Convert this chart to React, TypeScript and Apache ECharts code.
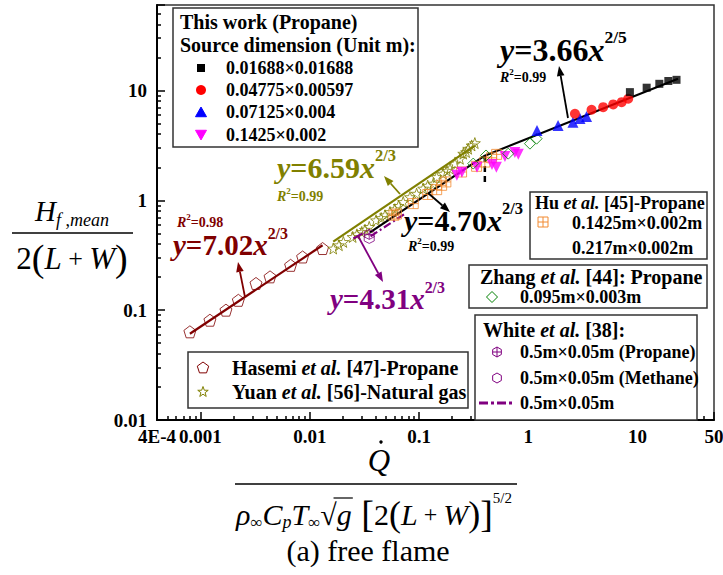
import React, { useEffect, useRef } from 'react';
import * as echarts from 'echarts';

// ---------- axis ranges & ticks ----------
const xMin = 4e-4;
const xMax = 50;
const yMin = 0.01;
const yMax = 60;
const xMinorTicks = [5e-4, 6e-4, 7e-4, 8e-4, 9e-4, 0.002, 0.003, 0.004, 0.005, 0.006, 0.007, 0.008, 0.009, 0.02, 0.03, 0.04, 0.05, 0.06, 0.07, 0.08, 0.09, 0.2, 0.3, 0.4, 0.5, 0.6, 0.7, 0.8, 0.9, 2, 3, 4, 5, 6, 7, 8, 9, 20, 30, 40];
const yMinorTicks = [0.02, 0.03, 0.04, 0.05, 0.06, 0.07, 0.08, 0.09, 0.2, 0.3, 0.4, 0.5, 0.6, 0.7, 0.8, 0.9, 2, 3, 4, 5, 6, 7, 8, 9, 20, 30, 40, 50];
const xEdgeLabels = ['4E-4', '50'];

// ---------- data ----------
const blackSquares = [[8.5, 9.66], [12.1, 10.6], [15.8, 11.5], [19.1, 12.2], [22.7, 12.5]];
const redCircles = [[2.67, 6.14], [3.79, 6.68], [4.84, 7.05], [5.98, 7.46], [7.14, 7.83], [8.2, 8.41]];
const blueTriangles = [[1.2, 4.33], [1.87, 4.8], [2.56, 5.15], [2.97, 5.56], [3.41, 5.8]];
const magentaTriangles = [[0.222, 1.69], [0.247, 1.8], [0.339, 2.0], [0.465, 2.12], [0.51, 2.0], [0.611, 2.51], [0.753, 2.73], [0.81, 2.62]];
const huPoints = [[0.0589, 0.731], [0.062, 0.75], [0.0885, 0.933], [0.12, 1.13], [0.145, 1.25], [0.161, 1.37], [0.176, 1.47], [0.245, 1.81], [0.336, 2.04], [0.4, 2.23], [0.461, 2.44], [0.513, 2.62]];
const zhangPoints = [[0.313, 2.16], [0.41, 2.56], [0.655, 2.66], [1.035, 3.28], [1.19, 3.64]];
const hasemiPoints = [[8.0e-4, 0.0635], [1.22e-3, 0.081], [1.71e-3, 0.1], [2.22e-3, 0.123], [3.22e-3, 0.175], [4.33e-3, 0.201], [6.68e-3, 0.256], [8.6e-3, 0.305], [0.0131, 0.364]];
const yuanPoints = [[0.0164, 0.364], [0.0185, 0.39], [0.0203, 0.418], [0.0247, 0.464], [0.027, 0.49], [0.0299, 0.515], [0.032, 0.54], [0.035, 0.573], [0.0404, 0.658], [0.045, 0.69], [0.0488, 0.731], [0.0542, 0.783], [0.06, 0.83], [0.065, 0.89], [0.0716, 0.966], [0.0826, 1.07], [0.095, 1.15], [0.109, 1.28], [0.12, 1.36], [0.135, 1.42], [0.145, 1.63], [0.166, 1.75], [0.18, 1.86], [0.192, 1.94], [0.213, 2.16], [0.237, 2.39], [0.254, 2.66], [0.27, 2.75], [0.282, 2.95], [0.303, 3.16], [0.324, 3.32]];
const whitePropane = [[0.035, 0.49]];
const whiteMethane = [[0.035, 0.45]];

const hasemiFit = [[8.0e-4, 0.061], [0.0131, 0.39]];
const yuanFit = [[0.0164, 0.42], [0.324, 3.15]];
const thisWorkFit = [[0.0356, 0.51], [0.4, 2.55], [23.4, 12.8]];
const whiteFit = [[0.036, 0.47], [0.075, 0.76]];
const dividerLine = [[0.4, 1.47], [0.4, 2.75]];

// ---------- colours ----------
const C_BLACK = '#000000';
const C_RED = '#FF0000';
const C_BLUE = '#0000FF';
const C_MAGENTA = '#FF00FF';
const C_ORANGE = '#F28A30';
const C_GREEN = '#008000';
const C_DARKRED = '#800000';
const C_OLIVE = '#808000';
const C_PURPLE = '#800080';

const FF = '"Liberation Serif","Times New Roman",serif';

// ---------- symbol shapes (normalised to 0..10 box) ----------
const STAR_PTS = [[5, 0], [6.18, 3.38], [9.76, 3.45], [6.9, 5.62], [7.94, 9.05], [5, 7], [2.06, 9.05], [3.1, 5.62], [0.24, 3.45], [3.82, 3.38]];
const PENT_PTS = [[5, 0], [9.76, 3.45], [7.94, 9.05], [2.06, 9.05], [0.24, 3.45]];
const HEX_PTS = [[5, 0], [9.33, 2.5], [9.33, 7.5], [5, 10], [0.67, 7.5], [0.67, 2.5]];
const TRI_UP = [[5, 0.5], [10, 9.3], [0, 9.3]];
const TRI_DOWN = [[0, 0.7], [10, 0.7], [5, 9.5]];
const DIAMOND = [[5, 0], [10, 5], [5, 10], [0, 5]];

const toPath = (pts: number[][]) => 'M' + pts.map((p) => p.join(',')).join(' L') + ' Z';
const STAR_SYM = 'path://' + toPath(STAR_PTS);
const PENT_SYM = 'path://' + toPath(PENT_PTS);
const HEX_SYM = 'path://' + toPath(HEX_PTS);
const HEXPLUS_SYM = 'path://' + toPath(HEX_PTS) + ' M5,0 L5,10 M0.67,5 L9.33,5';
const SQPLUS_SYM = 'path://M0,0 L10,0 L10,10 L0,10 Z M5,0 L5,10 M0,5 L10,5';

// ---------- text layout helpers ----------
type Piece = { t: string; s: number; i?: boolean; b?: boolean; dy?: number; c?: string };
let measureCtx: CanvasRenderingContext2D | null = null;
const fontOf = (p: Piece) => `${p.i ? 'italic ' : ''}${p.b ? 'bold ' : ''}${p.s}px ${FF}`;
function measure(p: Piece) {
  if (!measureCtx) measureCtx = document.createElement('canvas').getContext('2d');
  if (!measureCtx) return p.t.length * p.s * 0.5;
  measureCtx.font = fontOf(p);
  return measureCtx.measureText(p.t).width;
}
function row(pieces: Piece[], x: number, y: number, color: string, align: 'left' | 'center' = 'left') {
  const ws = pieces.map(measure);
  const total = ws.reduce((a, b) => a + b, 0);
  let cx = align === 'center' ? x - total / 2 : x;
  const xs: number[] = [];
  const els = pieces.map((p, k) => {
    xs.push(cx);
    const el = {
      type: 'text',
      x: cx,
      y: y + (p.dy || 0),
      z: 100,
      style: { text: p.t, font: fontOf(p), fill: p.c || color, align: 'left', verticalAlign: 'middle' },
    };
    cx += ws[k];
    return el;
  });
  return { els, xs, ws, total };
}
function eq(coef: string, exp: string, x: number, y: number, color: string, size = 29) {
  return row(
    [
      { t: 'y', i: true, b: true, s: size },
      { t: '=' + coef, b: true, s: size },
      { t: 'x', i: true, b: true, s: size },
      { t: exp, b: true, s: size * 0.55, dy: -size * 0.4 },
    ],
    x, y, color
  ).els;
}
function r2(val: string, x: number, y: number, color: string) {
  return row(
    [
      { t: 'R', i: true, b: true, s: 14 },
      { t: '2', b: true, s: 9, dy: -5 },
      { t: '=' + val, b: true, s: 14 },
    ],
    x, y, color
  ).els;
}
function arrow(x1: number, y1: number, x2: number, y2: number, color: string, w = 1.8, head = 10) {
  const a = Math.atan2(y2 - y1, x2 - x1);
  const hx = x2 - head * Math.cos(a);
  const hy = y2 - head * Math.sin(a);
  const px = -Math.sin(a) * head * 0.38;
  const py = Math.cos(a) * head * 0.38;
  return [
    { type: 'line', z: 100, shape: { x1, y1, x2: hx, y2: hy }, style: { stroke: color, lineWidth: w } },
    { type: 'polygon', z: 100, shape: { points: [[x2, y2], [hx + px, hy + py], [hx - px, hy - py]] }, style: { fill: color } },
  ];
}
function sym(pts: number[][], cx: number, cy: number, size: number, stroke: string, fill: string) {
  return {
    type: 'polygon',
    z: 100,
    shape: { points: pts.map(([px, py]) => [cx + ((px - 5) * size) / 10, cy + ((py - 5) * size) / 10]) },
    style: { fill, stroke, lineWidth: 1 },
  };
}
function box(x: number, y: number, w: number, h: number) {
  return { type: 'rect', z: 90, shape: { x, y, width: w, height: h }, style: { fill: '#ffffff', stroke: '#333333', lineWidth: 1.5 } };
}
const LT = 20; // titles / words
const LN = 18; // numeric entries
const legText = (t: string, x: number, y: number, s = LN) => row([{ t, b: true, s }], x, y, C_BLACK).els;
const etalText = (a: string, b: string, x: number, y: number, s = LT) =>
  row([{ t: a, b: true, s }, { t: 'et al.', b: true, i: true, s }, { t: b, b: true, s }], x, y, C_BLACK).els;

function fmtLog(v: number, edgeLabel: string) {
  const l = Math.log10(v);
  const r = Math.round(l);
  if (Math.abs(l - r) < 1e-6) return String(Number(Math.pow(10, r).toPrecision(1)));
  return edgeLabel;
}

function buildGraphics() {
  const g: any[] = [];
  // ---- top-left legend ----
  g.push(box(173, 8, 245, 139));
  g.push(...legText('This work (Propane)', 180, 22, LT));
  g.push(...legText('Source dimension (Unit m):', 180, 45, LT));
  g.push({ type: 'rect', z: 100, shape: { x: 197, y: 64, width: 8, height: 8 }, style: { fill: C_BLACK } });
  g.push(...legText('0.01688×0.01688', 226, 68));
  g.push({ type: 'circle', z: 100, shape: { cx: 201, cy: 90, r: 5 }, style: { fill: C_RED } });
  g.push(...legText('0.04775×0.00597', 226, 90));
  g.push(sym(TRI_UP, 201, 112, 11, C_BLUE, C_BLUE));
  g.push(...legText('0.07125×0.004', 226, 112));
  g.push(sym(TRI_DOWN, 201, 135, 11, C_MAGENTA, C_MAGENTA));
  g.push(...legText('0.1425×0.002', 226, 135));

  // ---- Hu legend ----
  g.push(box(530, 192, 177, 67));
  g.push(...etalText('Hu ', ' [45]-Propane', 535, 203, 18));
  g.push({ type: 'rect', z: 100, shape: { x: 538, y: 217, width: 10, height: 10 }, style: { fill: 'none', stroke: C_ORANGE, lineWidth: 1 } });
  g.push({ type: 'line', z: 100, shape: { x1: 543, y1: 217, x2: 543, y2: 227 }, style: { stroke: C_ORANGE, lineWidth: 1 } });
  g.push({ type: 'line', z: 100, shape: { x1: 538, y1: 222, x2: 548, y2: 222 }, style: { stroke: C_ORANGE, lineWidth: 1 } });
  g.push(...legText('0.1425m×0.002m', 572, 223));
  g.push(...legText('0.217m×0.002m', 572, 248));

  // ---- Zhang legend ----
  g.push(box(469, 265, 238, 43));
  g.push(...etalText('Zhang ', ' [44]: Propane', 480, 277));
  g.push(sym(DIAMOND, 492, 297, 11, C_GREEN, 'none'));
  g.push(...legText('0.095m×0.003m', 520, 297));

  // ---- White legend ----
  g.push(box(475, 315, 222, 105));
  g.push(...etalText('White ', ' [38]:', 483, 330));
  g.push(sym(HEX_PTS, 497, 352, 10, C_PURPLE, 'none'));
  g.push({ type: 'line', z: 100, shape: { x1: 497, y1: 347, x2: 497, y2: 357 }, style: { stroke: C_PURPLE, lineWidth: 1 } });
  g.push({ type: 'line', z: 100, shape: { x1: 492.7, y1: 352, x2: 501.3, y2: 352 }, style: { stroke: C_PURPLE, lineWidth: 1 } });
  g.push(...legText('0.5m×0.05m (Propane)', 520, 352));
  g.push(sym(HEX_PTS, 497, 378, 10, C_PURPLE, 'none'));
  g.push(...legText('0.5m×0.05m (Methane)', 520, 378));
  g.push({ type: 'line', z: 100, shape: { x1: 479, y1: 403, x2: 513, y2: 403 }, style: { stroke: C_PURPLE, lineWidth: 3, lineDash: [9, 3, 3, 3] } });
  g.push(...legText('0.5m×0.05m', 520, 403));

  // ---- Hasemi / Yuan legend ----
  g.push(box(188, 352, 280, 56));
  g.push(sym(PENT_PTS, 203, 368, 12, C_DARKRED, 'none'));
  g.push(...etalText('Hasemi ', ' [47]-Propane', 232, 368));
  g.push(sym(STAR_PTS, 203, 392, 11, C_OLIVE, 'none'));
  g.push(...etalText('Yuan ', ' [56]-Natural gas', 232, 392));

  // ---- equations ----
  g.push(...eq('3.66', '2/5', 500, 50, C_BLACK, 32));
  g.push(...r2('0.99', 500, 77, C_BLACK));
  g.push(...arrow(568, 118, 559, 66, C_BLACK));

  g.push(...eq('6.59', '2/3', 277, 167, C_OLIVE, 30));
  g.push(...r2('0.99', 277, 196, C_OLIVE));
  g.push(...arrow(400, 194, 384, 176, C_OLIVE));

  g.push(...eq('4.70', '2/3', 404, 220, C_BLACK, 30));
  g.push(...r2('0.99', 408, 246, C_BLACK));
  g.push(...arrow(428, 193, 450, 212, C_BLACK));

  g.push(...eq('7.02', '2/3', 173, 245, C_DARKRED, 29));
  g.push(...r2('0.98', 177, 222, C_DARKRED));
  g.push(...arrow(245, 297, 238, 262, C_DARKRED));

  g.push(...eq('4.31', '2/3', 330, 299, C_PURPLE, 29));
  g.push(...arrow(358, 236, 383, 282, C_PURPLE));
  g.push({ type: 'line', z: 100, shape: { x1: 353.4, y1: 238.5, x2: 362.6, y2: 233.5 }, style: { stroke: C_PURPLE, lineWidth: 2 } });

  // ---- y axis title ----
  const num = row(
    [
      { t: 'H', i: true, s: 29 },
      { t: 'f', i: true, s: 18, dy: 9 },
      { t: ' ,', s: 18, dy: 9 },
      { t: 'mean', i: true, s: 18, dy: 9 },
    ],
    72, 211, C_BLACK, 'center'
  );
  g.push(...num.els);
  g.push({ type: 'line', z: 100, shape: { x1: 12, y1: 233, x2: 133, y2: 233 }, style: { stroke: C_BLACK, lineWidth: 1.3 } });
  const den = row(
    [
      { t: '2', s: 31 },
      { t: '(', s: 38 },
      { t: 'L', i: true, s: 31 },
      { t: ' + ', s: 26 },
      { t: 'W', i: true, s: 31 },
      { t: ')', s: 38 },
    ],
    72, 258, C_BLACK, 'center'
  );
  g.push(...den.els);

  // ---- x axis title ----
  g.push(...row([{ t: 'Q', i: true, s: 31 }], 379, 460, C_BLACK, 'center').els);
  g.push({ type: 'circle', z: 100, shape: { cx: 381, cy: 442, r: 1.7 }, style: { fill: C_BLACK } });
  g.push({ type: 'line', z: 100, shape: { x1: 235, y1: 484, x2: 517, y2: 484 }, style: { stroke: C_BLACK, lineWidth: 1.3 } });
  const xd = row(
    [
      { t: 'ρ', i: true, s: 30 },
      { t: '∞', s: 17, dy: 8 },
      { t: 'C', i: true, s: 30 },
      { t: 'p', i: true, s: 18, dy: 8 },
      { t: 'T', i: true, s: 30 },
      { t: '∞', s: 17, dy: 8 },
      { t: '√', s: 30 },
      { t: 'g', i: true, s: 30 },
      { t: ' [', s: 38 },
      { t: '2', s: 30 },
      { t: '(', s: 36 },
      { t: 'L', i: true, s: 30 },
      { t: ' + ', s: 24 },
      { t: 'W', i: true, s: 30 },
      { t: ')', s: 36 },
      { t: ']', s: 38 },
      { t: '5/2', s: 15, dy: -16 },
    ],
    374, 514, C_BLACK, 'center'
  );
  g.push(...xd.els);
  const sqx = xd.xs[6] + xd.ws[6] * 0.8;
  const gx2 = xd.xs[7] + xd.ws[7] + 1;
  g.push({ type: 'line', z: 100, shape: { x1: sqx, y1: 498, x2: gx2, y2: 498 }, style: { stroke: C_BLACK, lineWidth: 1.2 } });
  g.push(...row([{ t: '(a) free flame', s: 30 }], 368, 550, C_BLACK, 'center').els);
  return g;
}

const hollow = (c: string) => ({ color: 'rgba(0,0,0,0)', borderColor: c, borderWidth: 1 });

export default function App() {
  const ref = useRef<HTMLDivElement>(null);
  useEffect(() => {
    if (!ref.current) return;
    const chart = echarts.init(ref.current, undefined, { renderer: 'svg' });
    const axisFont = { fontFamily: FF, fontWeight: 'bold' as const, fontSize: 19, color: '#000' };
    const tickStyle = { color: '#000', width: 1.5 };
    const option: any = {
      animation: false,
      backgroundColor: '#ffffff',
      grid: {
        left: 157, right: 9, top: 5, bottom: 155,
        show: true, borderColor: '#333333', borderWidth: 1.5,
        containLabel: false, outerBoundsMode: 'none',
      },
      xAxis: [
        {
          type: 'log', logBase: 10, min: xMin, max: xMax, position: 'bottom',
          axisLine: { show: true, onZero: false, lineStyle: { color: '#000', width: 2 } },
          axisTick: { show: true, inside: true, length: 8, lineStyle: tickStyle },
          axisLabel: { ...axisFont, margin: 7, showMinLabel: true, showMaxLabel: true, formatter: (v: number) => fmtLog(v, v < 1e-3 ? xEdgeLabels[0] : xEdgeLabels[1]) },
          splitLine: { show: false },
        },
        {
          type: 'log', logBase: 10, min: xMin, max: xMax, position: 'bottom',
          axisLine: { show: false },
          axisTick: { show: true, inside: true, length: 4, lineStyle: tickStyle, customValues: xMinorTicks },
          axisLabel: { show: false },
          splitLine: { show: false },
        },
      ],
      yAxis: [
        {
          type: 'log', logBase: 10, min: yMin, max: yMax, position: 'left',
          axisLine: { show: true, onZero: false, lineStyle: { color: '#000', width: 2 } },
          axisTick: { show: true, inside: true, length: 8, lineStyle: tickStyle },
          axisLabel: { ...axisFont, margin: 10, formatter: (v: number) => fmtLog(v, '') },
          splitLine: { show: false },
        },
        {
          type: 'log', logBase: 10, min: yMin, max: yMax, position: 'left',
          axisLine: { show: false },
          axisTick: { show: true, inside: true, length: 4, lineStyle: tickStyle, customValues: yMinorTicks },
          axisLabel: { show: false },
          splitLine: { show: false },
        },
      ],
      series: [
        { type: 'line', name: 'Hasemi fit', data: hasemiFit, symbol: 'none', lineStyle: { color: C_DARKRED, width: 2.2 }, z: 2 },
        { type: 'scatter', name: 'Hasemi', data: hasemiPoints, symbol: PENT_SYM, symbolSize: 12, itemStyle: hollow(C_DARKRED), z: 3 },
        { type: 'line', name: 'Yuan fit', data: yuanFit, symbol: 'none', lineStyle: { color: C_OLIVE, width: 2.2 }, z: 2 },
        { type: 'scatter', name: 'Yuan', data: yuanPoints, symbol: STAR_SYM, symbolSize: 11, itemStyle: hollow(C_OLIVE), z: 3 },
        { type: 'line', name: 'This work fit', data: thisWorkFit, symbol: 'none', lineStyle: { color: C_BLACK, width: 2.2 }, z: 4 },
        { type: 'line', name: 'divider', data: dividerLine, symbol: 'none', lineStyle: { color: C_BLACK, width: 2.5, type: [6, 4] }, z: 4 },
        { type: 'line', name: 'White fit', data: whiteFit, symbol: 'none', lineStyle: { color: C_PURPLE, width: 2.2, type: [8, 3, 2, 3] }, z: 3 },
        { type: 'scatter', name: 'Hu', data: huPoints, symbol: SQPLUS_SYM, symbolSize: 10, itemStyle: hollow(C_ORANGE), z: 5 },
        { type: 'scatter', name: '0.1425x0.002', data: magentaTriangles, symbol: 'triangle', symbolRotate: 180, symbolSize: 11, itemStyle: { color: C_MAGENTA }, z: 5 },
        { type: 'scatter', name: 'Zhang', data: zhangPoints, symbol: 'diamond', symbolSize: 11, itemStyle: hollow(C_GREEN), z: 5 },
        { type: 'scatter', name: '0.07125x0.004', data: blueTriangles, symbol: 'triangle', symbolSize: 11, itemStyle: { color: C_BLUE }, z: 5 },
        { type: 'scatter', name: '0.04775x0.00597', data: redCircles, symbol: 'circle', symbolSize: 10, itemStyle: { color: C_RED }, z: 5 },
        { type: 'scatter', name: '0.01688x0.01688', data: blackSquares, symbol: 'rect', symbolSize: 8, itemStyle: { color: C_BLACK }, z: 5 },
        { type: 'scatter', name: 'White propane', data: whitePropane, symbol: HEXPLUS_SYM, symbolSize: 10, itemStyle: hollow(C_PURPLE), z: 5 },
        { type: 'scatter', name: 'White methane', data: whiteMethane, symbol: HEX_SYM, symbolSize: 10, itemStyle: hollow(C_PURPLE), z: 5 },
      ],
      graphic: buildGraphics(),
    };
    chart.setOption(option);
    return () => chart.dispose();
  }, []);
  return <div ref={ref} style={{ position: 'fixed', left: 0, top: 0, width: 723, height: 575, background: '#fff' }} />;
}
